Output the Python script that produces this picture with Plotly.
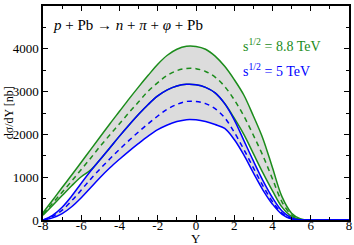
import plotly.graph_objects as go

Y = [-8, -7.5, -7, -6.5, -6, -5.5, -5, -4.5, -4, -3.5, -3, -2.5, -2, -1.5, -1, -0.5,
     0, 0.5, 1, 1.5, 2, 2.5, 3, 3.5, 4, 4.5, 5, 5.5, 6, 6.5, 7, 7.5, 8]

# sqrt(s) = 8.8 TeV (green)
green_upper = [170, 460, 760, 1050, 1350, 1650, 1950, 2250, 2540, 2830, 3110, 3380, 3640, 3850, 3990, 4060,
               4055, 3990, 3830, 3590, 3280, 2920, 2430, 1900, 1220, 540, 160, 20, 0, 0, 0, 0, 0]
green_mid = [140, 390, 650, 910, 1180, 1450, 1730, 1990, 2250, 2510, 2760, 3010, 3210, 3380, 3490, 3540,
             3535, 3470, 3340, 3120, 2810, 2430, 1980, 1500, 960, 420, 120, 15, 0, 0, 0, 0, 0]
green_lower = [110, 340, 570, 800, 1010, 1170, 1420, 1690, 1960, 2220, 2470, 2700, 2900, 3040, 3130, 3170,
               3160, 3100, 2970, 2720, 2380, 2000, 1550, 1100, 680, 300, 80, 10, 0, 0, 0, 0, 0]

# sqrt(s) = 5 TeV (blue)
blue_upper = [0, 110, 300, 560, 860, 1150, 1420, 1690, 1960, 2220, 2470, 2700, 2900, 3040, 3130, 3170,
              3160, 3100, 2970, 2720, 2340, 1860, 1380, 920, 520, 210, 50, 0, 0, 0, 0, 0, 0]
blue_mid = [0, 80, 230, 450, 700, 960, 1200, 1430, 1650, 1860, 2060, 2250, 2430, 2590, 2700, 2770,
            2770, 2720, 2600, 2390, 2050, 1650, 1220, 800, 430, 160, 30, 0, 0, 0, 0, 0, 0]
blue_lower = [0, 50, 150, 310, 520, 760, 1000, 1220, 1420, 1610, 1790, 1960, 2110, 2220, 2300, 2345,
              2340, 2300, 2230, 2140, 1880, 1520, 1100, 700, 370, 130, 20, 0, 0, 0, 0, 0, 0]

x_ticks = [-8, -6, -4, -2, 0, 2, 4, 6, 8]
y_ticks = [0, 1000, 2000, 3000, 4000, 5000]

GREEN = "#1b8c1b"
BLUE = "#0000ff"
GRAY = "#dcdcdc"
FONT = "Liberation Serif"

fig = go.Figure()

# shaded bands
for lo, hi in [(green_lower, green_upper), (blue_lower, blue_upper)]:
    fig.add_trace(go.Scatter(x=Y, y=lo, mode="lines", line=dict(width=0, shape="spline"), hoverinfo="skip"))
    fig.add_trace(go.Scatter(x=Y, y=hi, mode="lines", line=dict(width=0, shape="spline"), fill="tonexty",
                             fillcolor=GRAY, hoverinfo="skip"))

# lines
for ys, c, d in [(green_lower, GREEN, "solid"), (green_mid, GREEN, "5px,4px"), (green_upper, GREEN, "solid"),
                 (blue_lower, BLUE, "solid"), (blue_mid, BLUE, "5px,4px"), (blue_upper, BLUE, "solid")]:
    fig.add_trace(go.Scatter(x=Y, y=ys, mode="lines", line=dict(color=c, width=1.5, dash=d, shape="spline"),
                             hoverinfo="skip"))

axis_common = dict(showgrid=False, zeroline=False, showline=True, linecolor="black", linewidth=1.5,
                   mirror="allticks", ticks="inside", ticklen=5, tickwidth=1, tickcolor="black",
                   automargin=False,
                   tickfont=dict(family=FONT, size=13, color="black"))

fig.update_xaxes(range=[-8, 8], tickvals=x_ticks, ticktext=[str(v) for v in x_ticks], ticklabelstandoff=-7,
                 minor=dict(dtick=1, ticks="inside", ticklen=3, tickcolor="black", showgrid=False),
                 **axis_common)
fig.update_yaxes(range=[0, 5000], tickvals=y_ticks, ticktext=[str(v) for v in y_ticks],
                 minor=dict(dtick=500, ticks="inside", ticklen=3, tickcolor="black", showgrid=False),
                 **axis_common)

# axis titles
fig.add_annotation(x=0.5, y=-0.088, xref="paper", yref="paper", xanchor="center", yanchor="middle",
                   showarrow=False, text="Y", font=dict(family=FONT, size=13, color="black"),
                   borderpad=0)
fig.add_annotation(x=-0.11, y=0.5, xref="paper", yref="paper", xanchor="center", yanchor="middle",
                   showarrow=False, text="dσ/dY [nb]", textangle=-90,
                   font=dict(family=FONT, size=12, color="black"))

fig.add_annotation(x=0.025, y=0.91, xref="paper", yref="paper", xanchor="left", yanchor="middle",
                   showarrow=False,
                   text="<i>p</i> + Pb → <i>n</i> + <i>π</i> + <i>φ</i> + Pb",
                   font=dict(family=FONT, size=15, color="black"))
fig.add_annotation(x=0.648, y=0.82, xref="paper", yref="paper", xanchor="left", yanchor="middle",
                   showarrow=False, text="s<sup>1/2</sup> = 8.8 TeV",
                   font=dict(family=FONT, size=14, color=GREEN))
fig.add_annotation(x=0.648, y=0.70, xref="paper", yref="paper", xanchor="left", yanchor="middle",
                   showarrow=False, text="s<sup>1/2</sup> = 5 TeV",
                   font=dict(family=FONT, size=14, color=BLUE))

fig.update_layout(template="none", width=354, height=245, margin=dict(l=43, r=5, t=6, b=25),
                  paper_bgcolor="white", plot_bgcolor="white", showlegend=False,
                  font=dict(family=FONT))

fig.write_html("out.html", config={"displayModeBar": False},
               post_script="document.body.style.margin='0';document.body.style.padding='0';")
